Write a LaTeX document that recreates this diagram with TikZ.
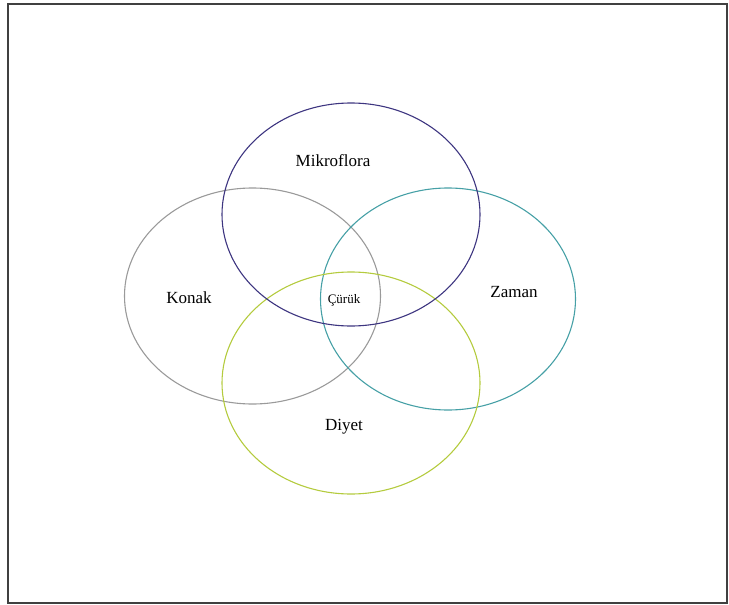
\documentclass[tikz,border=0pt]{standalone}
\usepackage{fontspec}
\setmainfont{Liberation Serif}
\definecolor{cmikro}{HTML}{3D3580}
\definecolor{ckonak}{HTML}{9A9A9A}
\definecolor{czaman}{HTML}{46A0A6}
\definecolor{cdiyet}{HTML}{B4CB3E}
\begin{document}
\begin{tikzpicture}[x=1pt,y=-1pt,
  ring/.style={line width=1.1pt},
  lbl/.style={font=\fontsize{17}{20}\selectfont, inner sep=0pt},
  small/.style={font=\fontsize{13}{15}\selectfont, inner sep=0pt}]
\useasboundingbox (0,0) rectangle (729,605);
\draw[line width=1.6pt, draw=black!75] (8,4) rectangle (727,603);
\draw[ring, draw=ckonak] (252.5,296) ellipse [x radius=128, y radius=108];
\draw[ring, draw=czaman] (448,299) ellipse [x radius=127.5, y radius=111];
\draw[ring, draw=cdiyet] (351,383) ellipse [x radius=129, y radius=111];
\draw[ring, draw=cmikro] (351,214.5) ellipse [x radius=129, y radius=111.5];
\node[lbl] (mikro) at (333,161) {Mikroflora};
\node[lbl] (konak) at (189,298) {Konak};
\node[lbl] (zaman) at (514,292) {Zaman};
\node[lbl] (diyet) at (344,427) {Diyet};
\node[small] (curuk) at (344,300) {Çürük};
\end{tikzpicture}
\end{document}
